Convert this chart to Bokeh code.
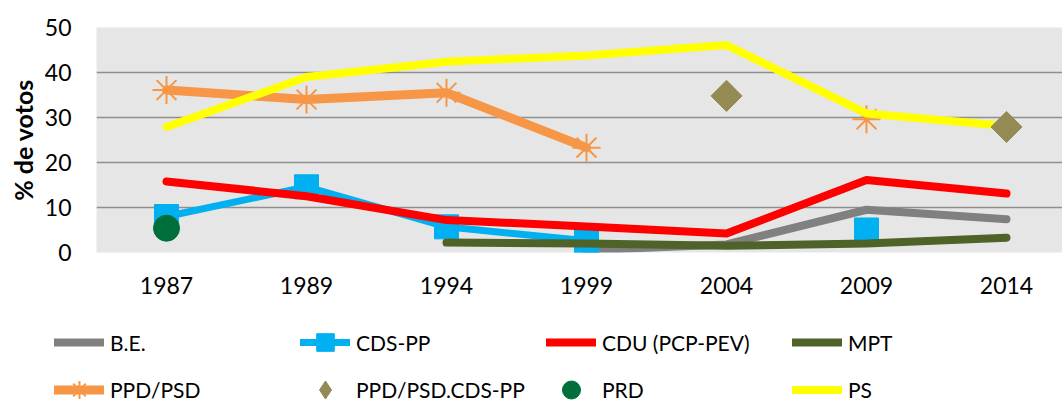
import math
from bokeh.plotting import figure
from bokeh.models import Range1d, FixedTicker, Legend, LegendItem, ColumnDataSource
from bokeh.embed import file_html
from bokeh.resources import INLINE

nan = float("nan")

years = ["1987", "1989", "1994", "1999", "2004", "2009", "2014"]
be = [nan, nan, nan, 0.5, 1.8, 9.5, 7.4]
cds_pp = [8.0, 14.6, 5.7, 2.6, nan, 5.0, nan]
cdu = [15.8, 12.5, 7.2, 5.8, 4.2, 16.1, 13.1]
mpt = [nan, nan, 2.2, 2.0, 1.5, 2.0, 3.3]
ppd_psd = [36.1, 34.0, 35.5, 23.3, nan, 29.6, nan]
ppd_psd_cds = [nan, nan, nan, nan, 34.8, nan, 27.9]
prd = [5.4, nan, nan, nan, nan, nan, nan]
ps = [27.9, 39.0, 42.4, 43.8, 46.1, 30.9, 28.1]

y_ticks = [0, 10, 20, 30, 40, 50]

xs = [i + 0.5 for i in range(len(years))]

FONT = "Lato"

COL = {
    "be": "#808080",
    "cds": "#00b0f0",
    "cdu": "#ff0000",
    "mpt": "#4f6228",
    "psd": "#f79646",
    "coal": "#948a54",
    "prd": "#006f3b",
    "ps": "#ffff00",
}

p = figure(width=1062, height=310, x_range=Range1d(0, 6.9), y_range=Range1d(0, 50),
           output_backend="svg", toolbar_location=None,
           min_border_left=96, min_border_right=0, min_border_top=27, min_border_bottom=58)

p.background_fill_color = "#e6e6e6"
p.border_fill_color = "white"
p.outline_line_color = None

p.xgrid.grid_line_color = None
p.ygrid.grid_line_color = "#8f8f8f"
p.ygrid.grid_line_width = 1.6
p.ygrid.ticker = FixedTicker(ticks=y_ticks)

p.xaxis.ticker = FixedTicker(ticks=xs)
p.xaxis.major_label_overrides = {x: y for x, y in zip(xs, years)}
p.yaxis.ticker = FixedTicker(ticks=y_ticks)
for ax in (p.xaxis, p.yaxis):
    ax.axis_line_color = None
    ax.major_tick_line_color = None
    ax.minor_tick_line_color = None
    ax.major_tick_out = 0
    ax.major_tick_in = 0
    ax.minor_tick_out = 0
    ax.major_label_text_font = FONT
    ax.major_label_text_font_size = "23px"
    ax.major_label_text_color = "#000000"
p.xaxis.major_label_standoff = 24
p.yaxis.major_label_standoff = 25
p.yaxis.axis_label = "% de votos"
p.yaxis.axis_label_text_font = FONT
p.yaxis.axis_label_text_font_style = "bold"
p.yaxis.axis_label_text_font_size = "25px"
p.yaxis.axis_label_text_color = "#000000"
p.yaxis.axis_label_standoff = 4


def draw(fig, data):
    def s(key):
        if data is None:
            return ColumnDataSource(dict(x=[nan], y=[nan]))
        return ColumnDataSource(dict(x=xs, y=data[key]))

    line_kw = dict(line_cap="round", line_join="round")
    r = {}
    r["be"] = [fig.line("x", "y", source=s("be"), line_color=COL["be"], line_width=8, **line_kw)]
    c = s("cds")
    r["cds"] = [fig.line("x", "y", source=c, line_color=COL["cds"], line_width=7, **line_kw),
                fig.scatter("x", "y", source=c, marker="square", size=24,
                            fill_color=COL["cds"], line_color=COL["cds"])]
    r["cdu"] = [fig.line("x", "y", source=s("cdu"), line_color=COL["cdu"], line_width=8, **line_kw)]
    r["mpt"] = [fig.line("x", "y", source=s("mpt"), line_color=COL["mpt"], line_width=8, **line_kw)]
    c = s("psd")
    r["psd"] = [fig.line("x", "y", source=c, line_color=COL["psd"], line_width=9, **line_kw),
                fig.scatter("x", "y", source=c, marker="asterisk", size=28,
                            line_color=COL["psd"], line_width=2)]
    r["prd"] = [fig.scatter("x", "y", source=s("prd"), marker="circle", size=26,
                            fill_color=COL["prd"], line_color=COL["prd"])]
    r["ps"] = [fig.line("x", "y", source=s("ps"), line_color=COL["ps"], line_width=8, **line_kw)]
    if data is None:
        r["coal"] = [fig.scatter("x", "y", source=s("coal"), marker="diamond", size=22,
                                 fill_color=COL["coal"], line_color=COL["coal"])]
    else:
        r["coal"] = [fig.scatter("x", "y", source=s("coal"), marker="square", angle=math.pi / 4,
                                 size=22, fill_color=COL["coal"], line_color=COL["coal"])]
    return r


draw(p, dict(be=be, cds=cds_pp, cdu=cdu, mpt=mpt, psd=ppd_psd, prd=prd, ps=ps,
             coal=ppd_psd_cds))

# legend panel below the chart (separate root, so its frame is not aligned with the chart's)
p2 = figure(width=1062, height=91, x_range=Range1d(0, 1), y_range=Range1d(0, 1),
            output_backend="svg", toolbar_location=None,
            x_axis_location=None, y_axis_location=None,
            min_border=0, min_border_left=0, min_border_right=0,
            min_border_top=0, min_border_bottom=0)
p2.xgrid.visible = False
p2.ygrid.visible = False
p2.outline_line_color = None
p2.background_fill_color = "white"
p2.border_fill_color = "white"

lr = draw(p2, None)

common = dict(orientation="horizontal", ncols=4, glyph_width=50,
              label_standoff=6, label_width=178, spacing=12,
              padding=0, margin=0, background_fill_alpha=0, border_line_color=None,
              label_text_font=FONT, label_text_font_size="21px", label_text_color="#000000")

leg1 = Legend(items=[
    LegendItem(label="B.E.", renderers=lr["be"]),
    LegendItem(label="CDS-PP", renderers=lr["cds"]),
    LegendItem(label="CDU (PCP-PEV)", renderers=lr["cdu"]),
    LegendItem(label="MPT", renderers=lr["mpt"]),
], location=(54, 37), glyph_height=44, label_height=44, **common)

leg2 = Legend(items=[
    LegendItem(label="PPD/PSD", renderers=lr["psd"]),
    LegendItem(label="PPD/PSD.CDS-PP", renderers=lr["coal"]),
    LegendItem(label="PRD", renderers=lr["prd"]),
    LegendItem(label="PS", renderers=lr["ps"]),
], location=(54, -10.5), glyph_height=45, label_height=45, **common)

p2.add_layout(leg1, "center")
p2.add_layout(leg2, "center")

open("out.html", "w").write(file_html([p, p2], INLINE))
